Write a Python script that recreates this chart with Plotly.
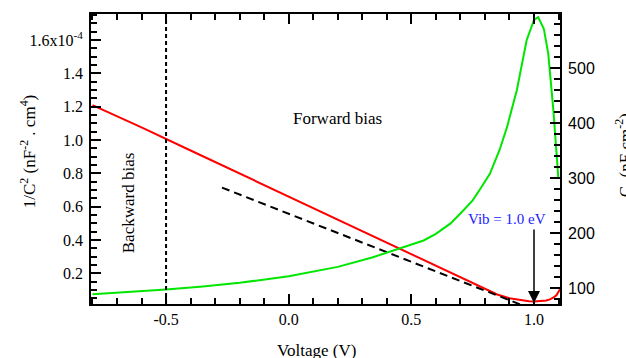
import plotly.graph_objects as go

# ---- data ----
voltage_red = [-0.8, -0.6, -0.4, -0.2, 0.0, 0.2, 0.4, 0.6, 0.7, 0.8, 0.85, 0.9,
               0.95, 0.98, 1.0, 1.025, 1.05, 1.065, 1.08, 1.092, 1.106]
inv_c2 = [1.21, 1.076, 0.937, 0.798, 0.659, 0.520, 0.381, 0.243, 0.173, 0.102,
          0.072, 0.050, 0.037, 0.032, 0.030, 0.031, 0.036, 0.043, 0.054, 0.069, 0.104]

voltage_c = [-0.8, -0.65, -0.5, -0.35, -0.2, 0.0, 0.2, 0.34, 0.45, 0.55, 0.6,
             0.66, 0.7, 0.75, 0.78, 0.82, 0.86, 0.89, 0.93, 0.95, 0.97, 1.0,
             1.017, 1.04, 1.058, 1.079, 1.099]
capacitance = [89, 93, 98, 103.5, 110, 122, 139, 156, 172, 187, 199,
               218, 236, 260, 280, 308, 352, 393, 460, 505, 551, 588,
               593, 572, 527, 424, 302]

fit_v = [-0.272, 1.012]
fit_inv_c2 = [0.714, -0.027]

x_tickvals = [-0.5, 0.0, 0.5, 1.0]
x_ticktext = ["-0.5", "0.0", "0.5", "1.0"]
y_tickvals = [0.2, 0.4, 0.6, 0.8, 1.0, 1.2, 1.4, 1.6]
y_ticktext = ["0.2", "0.4", "0.6", "0.8", "1.0", "1.2", "1.4", "1.6x10<sup>-4</sup>"]
y2_tickvals = [100, 200, 300, 400, 500]
y2_ticktext = ["100", "200", "300", "400", "500"]

SERIF = "Liberation Serif, Times New Roman, serif"
SANS = "Liberation Sans, Arial, sans-serif"

fig = go.Figure()
fig.add_trace(go.Scatter(x=voltage_red, y=inv_c2, mode="lines",
                         line=dict(color="#ff0000", width=2), yaxis="y"))
fig.add_trace(go.Scatter(x=fit_v, y=fit_inv_c2, mode="lines",
                         line=dict(color="black", width=2, dash="8px,5px"), yaxis="y"))
fig.add_trace(go.Scatter(x=voltage_c, y=capacitance, mode="lines",
                         line=dict(color="#00e600", width=2), yaxis="y2"))

fig.add_shape(type="line", xref="x", yref="paper", x0=-0.5, x1=-0.5, y0=0, y1=1,
              line=dict(color="black", width=2, dash="4px,3px"))

axis_common = dict(showline=True, linecolor="black", linewidth=1.8, ticks="inside",
                   tickcolor="black", tickwidth=1.5, ticklen=10, showgrid=False,
                   zeroline=False)

fig.update_layout(
    width=626, height=358,
    margin=dict(l=91, r=66, t=14, b=54),
    plot_bgcolor="white", paper_bgcolor="white",
    showlegend=False,
    xaxis=dict(range=[-0.806, 1.106], tickmode="array", tickvals=x_tickvals,
               ticktext=x_ticktext, mirror="ticks",
               tickfont=dict(family=SERIF, size=16, color="black"),
               minor=dict(dtick=0.1, tick0=0, ticks="inside", ticklen=6,
                          tickwidth=1.5, tickcolor="black"),
               **axis_common),
    yaxis=dict(range=[0.015, 1.757], tickmode="array", tickvals=y_tickvals,
               ticktext=y_ticktext, ticklabelstandoff=3,
               tickfont=dict(family=SERIF, size=16, color="black"),
               minor=dict(dtick=0.05, tick0=0, ticks="inside", ticklen=6,
                          tickwidth=1.5, tickcolor="black"),
               **axis_common),
    yaxis2=dict(range=[71.5, 598.7], overlaying="y", side="right",
                tickmode="array", tickvals=y2_tickvals, ticktext=y2_ticktext,
                ticklabelstandoff=3,
                tickfont=dict(family=SANS, size=16, color="black"),
                minor=dict(dtick=20, tick0=0, ticks="inside", ticklen=6,
                           tickwidth=1.5, tickcolor="black"),
                **axis_common),
)

# axis titles
fig.add_annotation(text="Voltage (V)", xref="paper", yref="paper", x=0.48, y=-0.159,
                   showarrow=False, font=dict(family=SERIF, size=17, color="black"),
                   xanchor="center", yanchor="middle")
fig.add_annotation(text="1/C<sup>2</sup> (nF<sup>-2</sup> . cm<sup>4</sup>)",
                   xref="paper", yref="paper", x=-0.134, y=0.524, textangle=-90,
                   showarrow=False, font=dict(family=SERIF, size=17, color="black"),
                   xanchor="center", yanchor="middle")
fig.add_annotation(text="C  (nF cm<sup>-2</sup>)",
                   xref="paper", yref="paper", x=1.135, y=0.514, textangle=-90,
                   showarrow=False, font=dict(family=SERIF, size=17, color="black"),
                   xanchor="center", yanchor="middle")

# in-plot labels
fig.add_annotation(text="Forward bias", x=0.199, y=1.132, xref="x", yref="y",
                   showarrow=False, font=dict(family=SERIF, size=17, color="black"))
fig.add_annotation(text="Backward bias", x=-0.65, y=0.622, xref="x", yref="y",
                   textangle=-90, showarrow=False,
                   font=dict(family=SERIF, size=17, color="black"))
fig.add_annotation(text="Vib = 1.0 eV", x=0.888, y=0.525, xref="x", yref="y",
                   showarrow=False, font=dict(family=SERIF, size=15, color="#1a1aff"))
fig.add_annotation(text="", x=1.0, y=0.021, xref="x", yref="y",
                   ax=1.0, ay=0.471, axref="x", ayref="y",
                   showarrow=True, arrowhead=2, arrowsize=1.6, arrowwidth=1.5,
                   arrowcolor="black")

fig.write_html("out.html")
